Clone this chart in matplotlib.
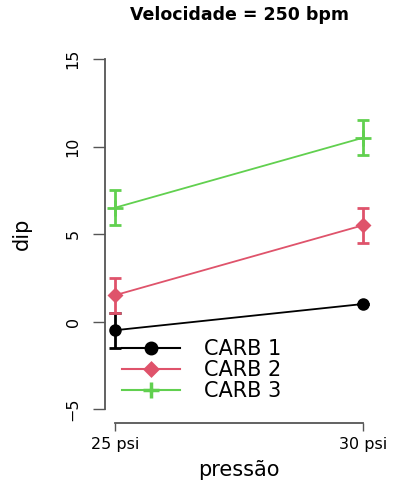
import numpy as np
import matplotlib
matplotlib.use('Agg')
import matplotlib.pyplot as plt
from matplotlib.lines import Line2D

pressao = [25, 30]
tick_labels = ['25 psi', '30 psi']
series = ['CARB 1', 'CARB 2', 'CARB 3']
dip = [[-0.5, 1.0], [1.5, 5.5], [6.5, 10.5]]
erro = [[1.0, 0.0], [1.0, 1.0], [1.0, 1.0]]

cores = ['black', '#DF536B', '#61D04F']
marcas = ['o', 'D', '+']
tamanhos = [7, 6, 11]

plt.rcParams['font.family'] = ['DejaVu Sans']

fig = plt.figure(figsize=(3.96, 4.84), dpi=100)
# eixo em pixels: esquerda 105, direita 373, topo 45, base 423
ax = fig.add_axes([105 / 396, 61 / 484, 268 / 396, 378 / 484])

handles = []
for i in range(len(series)):
    ax.errorbar(pressao, dip[i], yerr=erro[i], color=cores[i], marker=marcas[i],
                markersize=tamanhos[i], linewidth=1.3, elinewidth=2, capsize=4.5,
                capthick=1.5, mew=2)
    handles.append(Line2D([], [], color=cores[i], marker=marcas[i],
                          markersize=tamanhos[i] + 0.5, linewidth=1.5, mew=2.5))

ax.set_xlim(24.8, 30.2)
ax.set_ylim(-5.8, 15.8)
ax.set_xticks(pressao)
ax.set_xticklabels(tick_labels)
ax.set_yticks([-5, 0, 5, 10, 15])

for s in ['top', 'right']:
    ax.spines[s].set_visible(False)
ax.spines['left'].set_bounds(-5, 15)
ax.spines['bottom'].set_bounds(25, 30)
for s in ['left', 'bottom']:
    ax.spines[s].set_color('#555555')
    ax.spines[s].set_linewidth(1.3)
ax.tick_params(axis='y', length=8.6, width=1.0, color='#555555', pad=9,
               labelsize=11.5, labelrotation=90)
ax.tick_params(axis='x', length=6, width=1.0, color='#555555', pad=4, labelsize=11.5)
for lab in ax.get_yticklabels():
    lab.set_va('center')

ax.set_xlabel('pressão', fontsize=15, va='center')
ax.xaxis.set_label_coords(0.5, (423 - 470) / 378)
ax.set_ylabel('dip', fontsize=15, va='center')
ax.yaxis.set_label_coords((22 - 105) / 268, 0.5)
ax.set_title('Velocidade = 250 bpm', fontsize=12.5, fontweight='bold',
             y=(423 - 15) / 378, va='center', pad=0)

ax.legend(handles, series, loc='upper left', bbox_to_anchor=(0.063, 0.2215),
          frameon=False, fontsize=15, handlelength=2.8, handletextpad=1.15,
          labelspacing=0.04, borderpad=0, borderaxespad=0)

fig.savefig('out.png', dpi=100)
